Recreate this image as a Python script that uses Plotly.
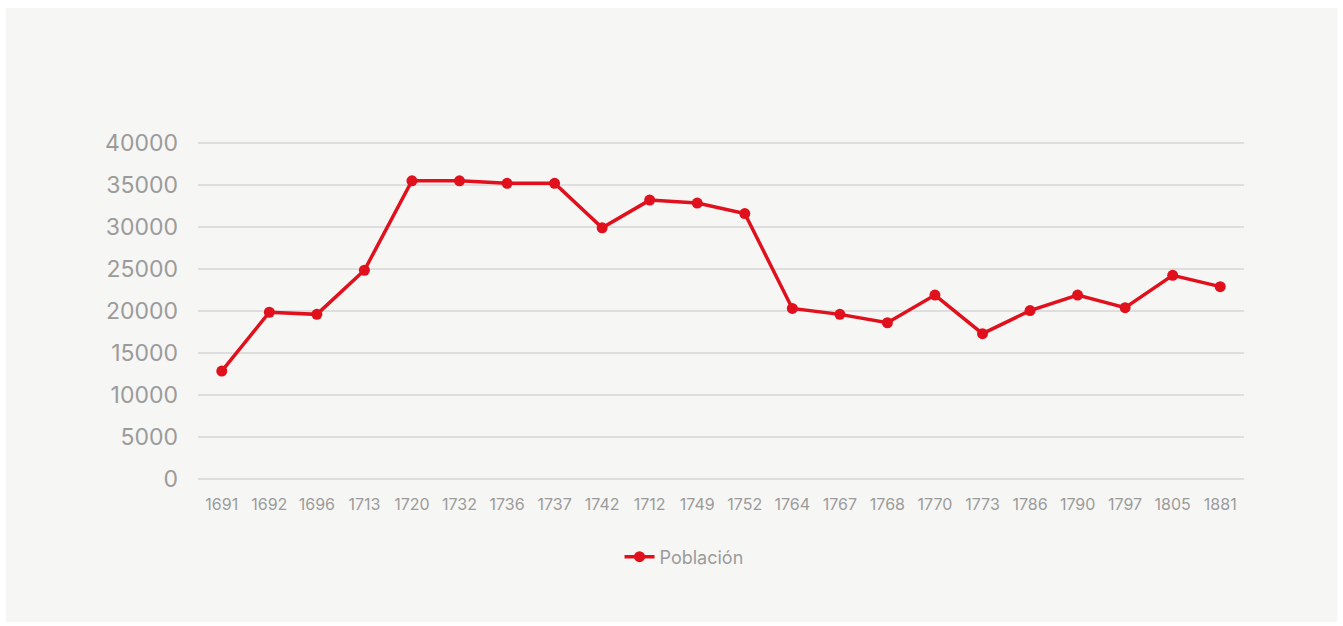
import plotly.graph_objects as go

years = ["1691", "1692", "1696", "1713", "1720", "1732", "1736", "1737", "1742", "1712", "1749",
         "1752", "1764", "1767", "1768", "1770", "1773", "1786", "1790", "1797", "1805", "1881"]
poblacion = [12850, 19850, 19600, 24850, 35500, 35500, 35200, 35200, 29900, 33200, 32850,
             31600, 20300, 19600, 18600, 21900, 17300, 20050, 21900, 20400, 24250, 22900]
y_ticks = [0, 5000, 10000, 15000, 20000, 25000, 30000, 35000, 40000]

RED = "#e0101c"
GRAY_TXT = "#9b9b9b"
FONT = "Inter, Lato, sans-serif"

W, H = 1343, 626
# plot area in pixels (with small padding so the edge gridlines render)
PAD_PX = 4
L, R = 197.5, 1244.5
T, B = 143 - PAD_PX, 479 + PAD_PX
pw, ph = R - L, B - T
per_px = 40000 / (479 - 143)
yr = [-PAD_PX * per_px, 40000 + PAD_PX * per_px]

def px_x(x):
    return (x - L) / pw

def px_y(y):
    return (B - y) / ph

fig = go.Figure()
fig.add_trace(go.Scatter(
    x=list(range(len(years))), y=poblacion, mode="lines+markers", name="Población",
    line=dict(color=RED, width=3.5),
    marker=dict(color=RED, size=11),
    cliponaxis=False,
))

fig.add_shape(type="rect", xref="paper", yref="paper", layer="below",
              x0=px_x(5), x1=px_x(1338), y0=px_y(622), y1=px_y(8),
              fillcolor="#f6f6f4", line=dict(width=0))

fig.update_layout(
    width=W, height=H,
    margin=dict(l=L, r=W - R, t=T, b=H - B, pad=0),
    paper_bgcolor="white",
    plot_bgcolor="rgba(0,0,0,0)",
    font=dict(family=FONT, color=GRAY_TXT),
    showlegend=True,
    legend=dict(orientation="h", x=px_x(684), xanchor="center", y=px_y(557), yanchor="middle",
                xref="paper", yref="paper", font=dict(size=18, color=GRAY_TXT),
                bgcolor="rgba(0,0,0,0)"),
    xaxis=dict(
        tickmode="array", tickvals=list(range(len(years))), ticktext=years,
        range=[-0.5, len(years) - 0.5], showgrid=False, zeroline=False, showline=False,
        tickfont=dict(size=16, color=GRAY_TXT), ticklabelstandoff=10,
    ),
    yaxis=dict(
        tickmode="array", tickvals=y_ticks, ticktext=[str(v) for v in y_ticks],
        range=yr, showgrid=True, gridcolor="#dedede", gridwidth=2,
        zeroline=False, showline=False,
        tickfont=dict(size=23, color=GRAY_TXT), ticklabelstandoff=19,
    ),
)

fig.write_html("out.html")
